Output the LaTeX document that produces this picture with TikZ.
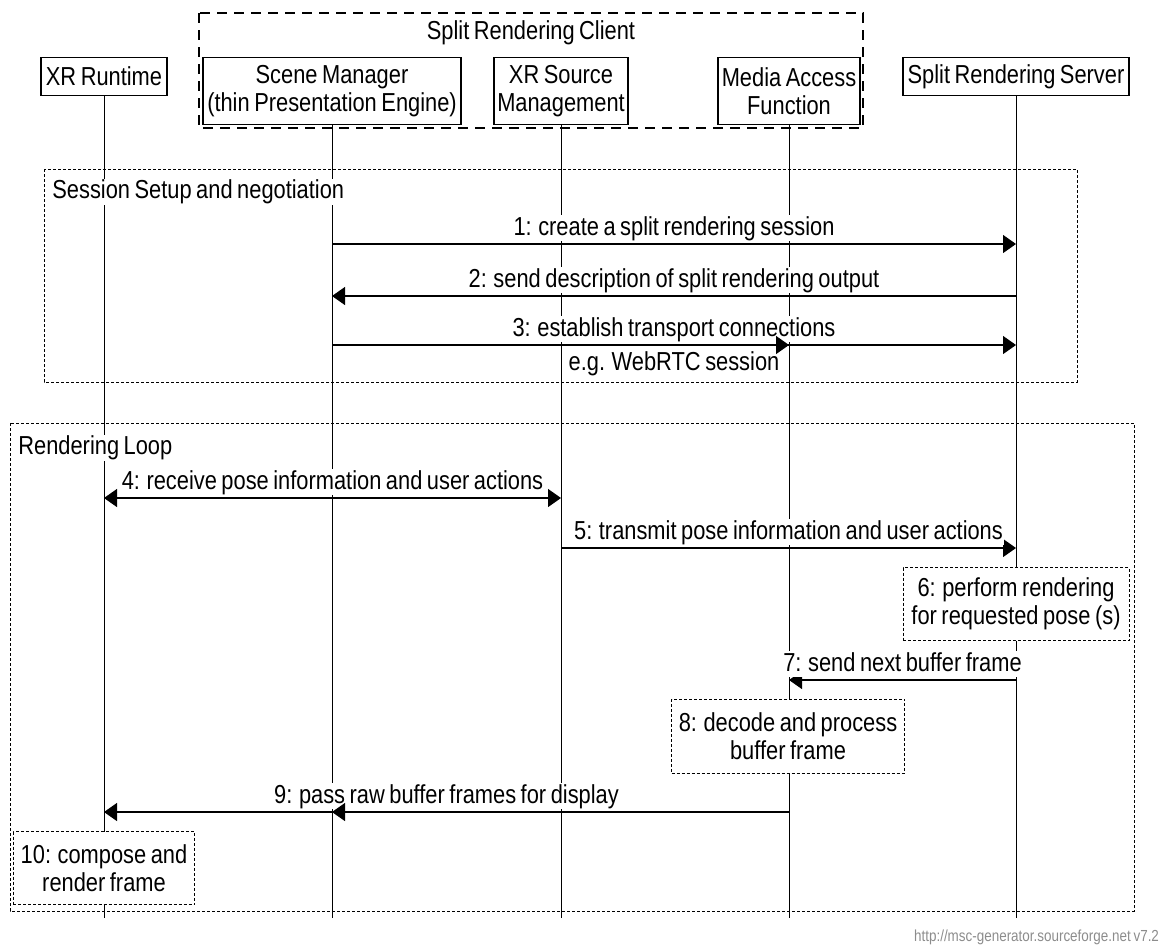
\documentclass[tikz,border=0pt]{standalone}
\usepackage{fontspec}
\setmainfont{Liberation Sans}[FakeStretch=0.84, WordSpace=0.75]
\usetikzlibrary{arrows.meta}

\tikzset{
    entity/.style={draw, fill=white, line width=0.6bp, align=center, inner sep=0pt, anchor=north},
    life/.style={line width=0.5bp},
    msg/.style={line width=0.6bp, -{Triangle[length=6.5bp,width=9bp]}},
    msgboth/.style={line width=0.6bp, {Triangle[length=6.5bp,width=9bp]}-{Triangle[length=6.5bp,width=9bp]}},
    lbl/.style={fill=white, inner sep=0.5bp, text height=9.5bp, text depth=2.5bp},
    action/.style={draw, fill=white, line width=0.5bp, dash pattern=on 1.5bp off 1bp, align=center, inner sep=0pt},
    frame/.style={line width=0.5bp, dash pattern=on 1.5bp off 1bp},
    clientframe/.style={line width=0.6bp, dash pattern=on 5bp off 3.5bp},
}

\begin{document}
\begin{tikzpicture}[x=0.5bp, y=-0.5bp, font=\fontsize{13bp}{14bp}\selectfont]
    \useasboundingbox (0,0) rectangle (1171,945);

    % rows of the messages
    \coordinate (bot) at (0,918);
    \foreach \r/\y in {r1/244, r2/296, r3/345, r4/498, r5/548, r7/680, r9/812} {
        \coordinate (\r) at (0,\y);
    }

    % the client group
    \draw[clientframe] (199,13) rectangle (863,128);
    \node (client) at (531,33) {Split Rendering Client};

    % entities and their lifelines
    \foreach \nm/\x/\w/\h/\txt in {xr/104/126/38/{XR Runtime},
                                  scene/332/258/67/{Scene Manager\\(thin Presentation Engine)},
                                  src/561/134/67/{XR Source\\Management},
                                  maf/789/142/67/{Media Access\\Function},
                                  srv/1016/226/38/{Split Rendering Server}} {
        \node[entity, minimum width=\w*0.5bp, minimum height=\h*0.5bp] (\nm) at (\x,57) {\txt};
        \draw[life] (\nm.south) -- (\nm |- bot);
    }

    % session setup
    \draw[frame] (44,169) rectangle (1077,382);
    \node[fill=white, inner sep=0.5bp, anchor=west] (setup) at (51,192) {Session Setup and negotiation};

    \draw[msg] (scene |- r1) -- node[lbl, above=1bp] (l1) {1: create a split rendering session} (srv |- r1);
    \draw[msg] (srv |- r2) -- node[lbl, above=1bp] (l2) {2: send description of split rendering output} (scene |- r2);
    \draw[msg] (scene |- r3) -- node[lbl, above=1bp] (l3) {3: establish transport connections}
        node[lbl, below=2.5bp] (l3b) {e.g. WebRTC session} (srv |- r3);
    \draw[msg] (scene |- r3) -- (maf |- r3);

    % rendering loop
    \draw[frame] (10,423) rectangle (1134,911);
    \node[fill=white, inner sep=0.5bp, anchor=west] (loop) at (17,448) {Rendering Loop};

    \draw[msgboth] (xr |- r4) -- node[lbl, above=1bp] (l4) {4: receive pose information and user actions} (src |- r4);
    \draw[msg] (src |- r5) -- node[lbl, above=1bp] (l5) {5: transmit pose information and user actions} (srv |- r5);
    \node[action, minimum width=113bp, minimum height=36.5bp] (a6) at (1016,604) {6: perform rendering\\for requested pose (s)};
    \draw[msg] (srv |- r7) -- node[lbl, above=1bp] (l7) {7: send next buffer frame} (maf |- r7);
    \node[action, minimum width=116.5bp, minimum height=37bp] (a8) at (788,736) {8: decode and process\\buffer frame};
    \draw[msg] (maf |- r9) -- node[lbl, above=1bp] (l9) {9: pass raw buffer frames for display} (xr |- r9);
    \draw[msg] (maf |- r9) -- (scene |- r9);
    \node[action, minimum width=90.5bp, minimum height=36.5bp] (a10) at (104,868) {10: compose and\\render frame};

    \node[anchor=east, text=black!45, font=\fontsize{8bp}{9bp}\selectfont] (credit) at (1166,937) {http://msc-generator.sourceforge.net v7.2};
\end{tikzpicture}
\end{document}
